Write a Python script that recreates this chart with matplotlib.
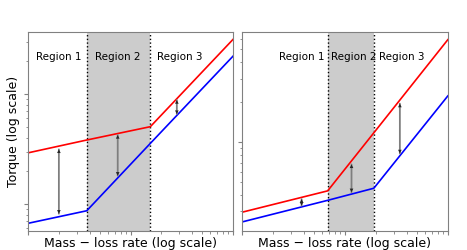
import numpy as np
import matplotlib
matplotlib.use("Agg")
import matplotlib.pyplot as plt

# breakpoints of the piecewise power laws (x: mass-loss rate, y: torque)
x_left = [0.1, 0.374, 1.56, 10]
red_left = [2.92, 3.82, 5.05, 31.4]
blue_left = [0.668, 0.869, 3.56, 22.1]
bounds_left = (0.374, 1.56)
arrows_left = [(0.2, 3.14, 0.817), (0.75, 4.24, 1.81), (2.83, 8.81, 6.58)]

x_right = [0.1, 0.68, 1.91, 10]
red_right = [0.296, 0.429, 1.175, 5.92]
blue_right = [0.250, 0.364, 0.449, 2.23]
bounds_right = (0.68, 1.91)
arrows_right = [(0.38, 0.372, 0.332), (1.16, 0.679, 0.419), (3.42, 1.95, 0.822)]

region_names = ["Region 1", "Region 2", "Region 3"]
region_x_left = [0.2, 0.75, 3.05]
region_x_right = [0.38, 1.22, 3.6]

fig = plt.figure(figsize=(4.67, 2.5), dpi=100)
ax1 = fig.add_axes([0.060, 0.076, 0.439, 0.796])
ax2 = fig.add_axes([0.518, 0.076, 0.441, 0.796])

panels = [
    (ax1, x_left, red_left, blue_left, bounds_left, arrows_left, region_x_left, (10**-0.245, 10**1.564)),
    (ax2, x_right, red_right, blue_right, bounds_right, arrows_right, region_x_right, (10**-0.67, 10**0.83)),
]

for ax, xs, red, blue, (b1, b2), arrows, rx, ylim in panels:
    ax.set_xscale("log")
    ax.set_yscale("log")
    ax.set_xlim(0.1, 10)
    ax.set_ylim(*ylim)
    ax.axvspan(b1, b2, color="0.8", lw=0)
    ax.axvline(b1, color="k", ls=":", lw=1)
    ax.axvline(b2, color="k", ls=":", lw=1)
    ax.plot(xs, red, color="red", lw=1.2)
    ax.plot(xs, blue, color="blue", lw=1.2)
    for xa, ytop, ybot in arrows:
        ax.annotate("", xy=(xa, ybot), xytext=(xa, ytop),
                    arrowprops=dict(arrowstyle="-", color="0.5", lw=1.3,
                                    shrinkA=0, shrinkB=0))
        ax.annotate("", xy=(xa, ybot), xytext=(xa, ytop),
                    arrowprops=dict(arrowstyle="<|-|>", color="0.15", lw=0.01,
                                    mutation_scale=6.5, shrinkA=0, shrinkB=0))
    ytxt = 10**(np.log10(ylim[1]) - 0.125 * (np.log10(ylim[1]) - np.log10(ylim[0])))
    for name, xt in zip(region_names, rx):
        ax.text(xt, ytxt, name, ha="center", va="center", fontsize=7.5)
    ax.tick_params(which="both", labelbottom=False, labelleft=False, color="0.5")
    ax.tick_params(which="major", length=3)
    ax.tick_params(which="minor", length=1.8)
    for s in ax.spines.values():
        s.set_color("0.5")
    ax.set_xlabel("Mass − loss rate (log scale)", fontsize=9, labelpad=1)

ax1.set_ylabel("Torque (log scale)", fontsize=9, labelpad=3)

fig.savefig("out.png", dpi=100)
